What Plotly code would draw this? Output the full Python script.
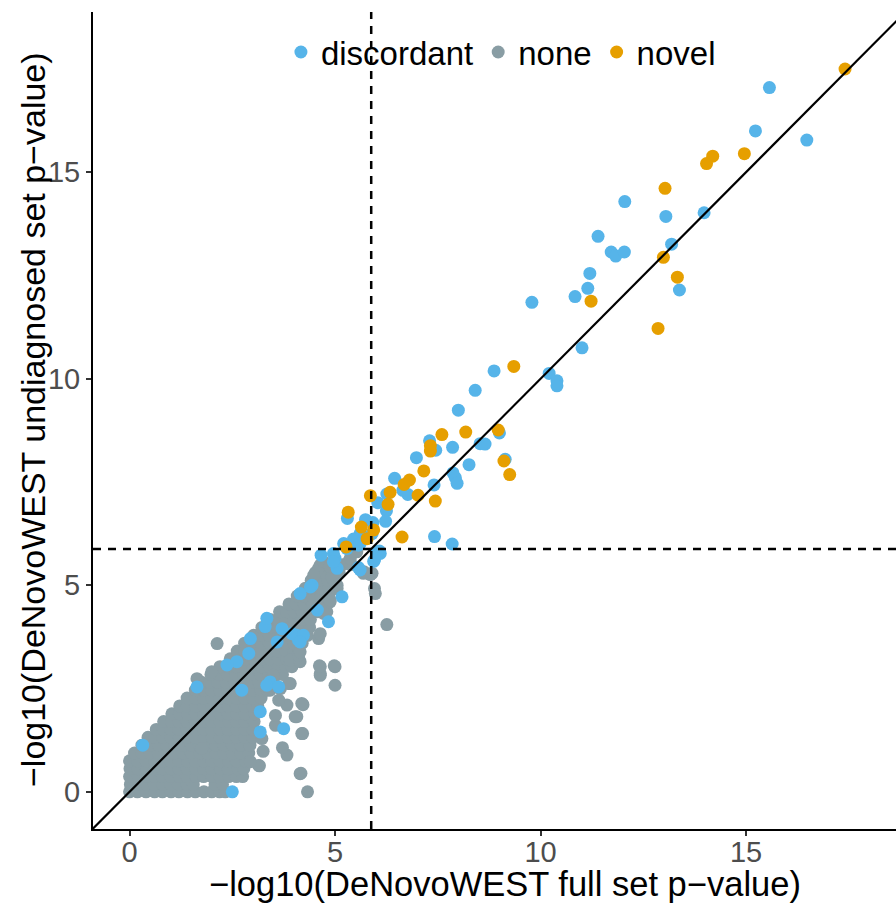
import plotly.graph_objects as go

# ---------------- data ----------------
threshold = 5.88  # significance threshold on both axes

discordant_x = [15.57, 15.23, 16.48, 12.05, 13.05, 13.98, 11.40, 11.72, 11.83, 12.04, 13.19, 13.38,
                11.20, 11.15, 10.84, 9.79, 11.01, 8.87, 10.21, 10.40, 10.40, 8.41, 8.00, 9.00,
                7.30, 7.45, 7.86, 8.53, 8.65, 6.98, 8.26, 9.14, 7.87, 7.93, 7.97, 6.45, 7.41,
                6.65, 6.77, 6.26, 6.04, 6.25, 7.42, 7.85, 5.30, 5.74, 5.92, 6.23, 5.61, 5.45,
                5.21, 5.57, 6.08, 5.96, 4.66, 5.00, 5.05, 5.57, 4.44, 4.96, 5.29, 5.61, 5.90,
                6.02, 5.61, 5.94, 6.10, 4.96, 4.40, 5.17, 4.57, 4.84, 4.07, 4.11, 3.30, 2.90,
                3.71, 3.95, 3.59, 2.61, 3.42, 4.15, 4.23, 2.94, 2.37, 3.34, 0.32, 1.64, 2.73,
                3.34, 3.63, 3.18, 3.75, 3.18, 2.50, 4.15]
discordant_y = [17.05, 16.00, 15.78, 14.29, 13.93, 14.02, 13.45, 13.07, 12.97, 13.07, 13.26, 12.15,
                12.55, 12.19, 11.99, 11.85, 10.75, 10.19, 10.13, 9.95, 9.83, 9.72, 9.24, 8.69,
                8.50, 8.27, 8.34, 8.43, 8.42, 8.09, 7.92, 8.05, 7.72, 7.60, 7.47, 7.59, 7.43,
                7.30, 7.20, 7.21, 7.00, 6.80, 6.18, 6.00, 6.62, 6.59, 6.52, 6.55, 6.25, 6.12,
                6.01, 5.97, 5.83, 5.61, 5.73, 5.65, 5.41, 5.43, 5.00, 5.77, 5.89, 6.01, 6.25,
                5.81, 5.37, 5.58, 5.77, 5.57, 4.96, 4.72, 4.40, 4.12, 3.79, 3.67, 4.00, 3.35,
                3.95, 3.83, 3.63, 3.15, 2.66, 4.80, 3.79, 3.71, 3.07, 4.20, 1.13, 2.54, 2.46,
                2.58, 2.54, 1.94, 1.53, 1.45, 0.00, 3.63]

novel_x = [17.41, 14.19, 14.04, 14.96, 13.03, 12.99, 13.33, 11.23, 12.86, 9.35, 8.97, 8.18,
           7.60, 7.32, 7.32, 9.11, 9.25, 7.16, 6.81, 6.68, 7.02, 6.34, 5.86, 6.29, 7.44,
           6.63, 5.32, 5.64, 5.94, 5.78, 5.27]
novel_y = [17.50, 15.39, 15.21, 15.45, 14.61, 12.94, 12.46, 11.88, 11.22, 10.30, 8.76, 8.71,
           8.65, 8.38, 8.25, 8.01, 7.68, 7.77, 7.55, 7.44, 7.18, 7.25, 7.17, 6.96, 7.04,
           6.17, 6.77, 6.41, 6.34, 6.13, 5.93]

# dense "none" cloud, read row by row: y value -> x values
none_rows = {
    0.00: [0.00, 0.19, 0.40, 0.61, 0.80, 1.01, 1.20, 1.41, 1.60, 1.81, 2.00, 2.19, 2.33],
    0.18: [0.02, 0.22, 0.41, 0.60, 0.81, 1.00, 1.19, 1.40, 1.55, 2.08, 2.26],
    0.37: [0.00, 0.21, 0.40, 0.61, 0.80, 1.00, 1.21, 1.40, 1.62, 1.80, 2.01, 2.20, 2.41, 2.60, 2.75],
    0.56: [0.01, 0.20, 0.41, 0.60, 0.79, 1.01, 1.20, 1.40, 1.61, 1.80, 2.00, 2.21, 2.40, 2.63, 2.78],
    0.75: [0.00, 0.20, 0.40, 0.61, 0.80, 1.00, 1.20, 1.41, 1.60, 1.80, 2.01, 2.20, 2.41, 2.60, 2.82],
    0.94: [0.12, 0.30, 0.50, 0.70, 0.91, 1.10, 1.30, 1.50, 1.71, 1.90, 2.10, 2.30, 2.50, 2.70, 2.90],
    1.13: [0.30, 0.50, 0.70, 0.90, 1.10, 1.31, 1.50, 1.70, 1.91, 2.10, 2.30, 2.50, 2.70, 2.93],
    1.32: [0.45, 0.62, 0.81, 1.00, 1.21, 1.40, 1.60, 1.80, 2.01, 2.20, 2.40, 2.60, 2.80, 3.00],
    1.51: [0.65, 0.82, 1.00, 1.20, 1.40, 1.61, 1.80, 2.00, 2.20, 2.40, 2.60, 2.81, 3.00],
    1.70: [0.83, 1.02, 1.20, 1.40, 1.60, 1.80, 2.00, 2.20, 2.41, 2.60, 2.80, 3.03],
    1.89: [1.03, 1.21, 1.41, 1.60, 1.80, 2.00, 2.20, 2.40, 2.61, 2.81, 3.05],
    2.08: [1.22, 1.40, 1.60, 1.80, 2.00, 2.21, 2.40, 2.60, 2.80, 3.00, 3.12],
    2.27: [1.40, 1.60, 1.80, 2.00, 2.20, 2.40, 2.61, 2.80, 3.00, 3.20],
    2.46: [1.60, 1.80, 2.00, 2.20, 2.40, 2.60, 2.80, 3.00, 3.20, 3.35],
    2.65: [1.75, 1.95, 2.15, 2.35, 2.55, 2.75, 2.95, 3.15, 3.35, 3.50],
    2.84: [1.98, 2.18, 2.38, 2.58, 2.78, 2.98, 3.18, 3.38, 3.58, 3.72],
    3.03: [2.20, 2.40, 2.60, 2.80, 3.00, 3.20, 3.40, 3.60, 3.80, 3.95],
    3.22: [2.45, 2.62, 2.82, 3.02, 3.22, 3.42, 3.62, 3.82, 3.95, 4.12],
    3.41: [2.62, 2.80, 3.00, 3.20, 3.40, 3.60, 3.80, 4.00, 4.12],
    3.60: [2.80, 3.00, 3.20, 3.40, 3.60, 3.80, 4.00, 4.20],
    3.79: [3.02, 3.20, 3.40, 3.60, 3.80, 4.00, 4.20, 4.33],
    3.98: [3.22, 3.40, 3.60, 3.80, 4.00, 4.20, 4.38],
    4.17: [3.42, 3.60, 3.80, 4.00, 4.20, 4.40],
    4.36: [3.65, 3.82, 4.00, 4.20, 4.40, 4.58],
    4.55: [3.88, 4.05, 4.25, 4.45, 4.65],
    4.74: [4.08, 4.25, 4.45, 4.65, 4.85],
    4.93: [4.28, 4.45, 4.65, 4.85, 5.02],
    5.12: [4.42, 4.62, 4.82, 5.00],
    5.31: [4.52, 4.72, 4.92, 5.10],
    5.50: [4.78, 4.98, 5.18, 5.38],
}
# scattered "none" points outside the dense cloud
none_extra_x = [4.33, 4.15, 4.17, 3.14, 3.16, 2.94, 3.25, 3.83, 3.72, 3.22, 4.21, 4.19, 3.55,
                3.55, 4.07, 4.03, 3.83, 4.22, 4.19, 3.63, 3.42, 3.67, 3.91, 3.87, 5.00, 1.64,
                2.00, 4.64, 4.64, 3.50, 4.64, 5.00, 4.98, 4.62, 3.91, 4.15, 4.11, 4.15, 2.13,
                4.60, 4.64, 4.72, 4.80, 4.88, 4.88, 5.05, 4.96, 4.92, 5.05, 5.69, 5.90, 5.86,
                5.70, 5.37, 5.33, 5.53, 5.37, 5.96, 5.98, 6.26, 4.64, 4.60, 4.72, 4.48, 4.88,
                1.76]
none_extra_y = [0.00, 0.44, 0.45, 0.64, 0.63, 0.73, 0.98, 0.89, 1.07, 1.29, 1.41, 1.41, 1.61,
                1.85, 1.82, 1.82, 2.10, 2.11, 2.14, 2.22, 2.46, 2.50, 2.62, 2.62, 2.58, 2.74,
                2.91, 2.82, 2.86, 2.82, 3.03, 3.03, 3.05, 3.05, 3.19, 3.15, 3.31, 3.39, 3.59,
                3.71, 3.83, 4.32, 4.36, 4.60, 4.64, 4.92, 5.12, 5.20, 5.00, 5.29, 5.29, 5.26,
                5.33, 5.57, 5.57, 5.81, 5.65, 4.92, 4.80, 4.05, 5.49, 5.41, 5.57, 5.24, 5.45,
                1.05]

x_range = [-0.89, 18.65]
y_range = [-0.90, 18.88]
tick_vals = [0, 5, 10, 15]

# ---------------- figure ----------------
none_x = [x for yv, xs in none_rows.items() for x in xs] + none_extra_x
none_y = [yv for yv, xs in none_rows.items() for x in xs] + none_extra_y

FONT = "Liberation Sans, Arial, sans-serif"
COL_NONE = "#899DA4"
COL_DISC = "#56B4E9"
COL_NOVEL = "#E69F00"
MS = 13

fig = go.Figure()
fig.add_trace(go.Scatter(x=none_x, y=none_y, mode="markers", name="none", legendrank=2,
                         marker=dict(color=COL_NONE, size=MS, line=dict(width=0))))
fig.add_trace(go.Scatter(x=discordant_x, y=discordant_y, mode="markers", name="discordant",
                         legendrank=1, marker=dict(color=COL_DISC, size=MS, line=dict(width=0))))
fig.add_trace(go.Scatter(x=novel_x, y=novel_y, mode="markers", name="novel", legendrank=3,
                         marker=dict(color=COL_NOVEL, size=MS, line=dict(width=0))))

# reference lines
lo = min(x_range[0], y_range[0])
hi = max(x_range[1], y_range[1])
fig.add_shape(type="line", xref="x", yref="y", x0=lo, y0=lo, x1=hi, y1=hi,
              line=dict(color="black", width=2.2), layer="above")
fig.add_shape(type="line", xref="x", yref="paper", x0=threshold, x1=threshold, y0=0, y1=1,
              line=dict(color="black", width=2.5, dash="8px,7px"), layer="above")
fig.add_shape(type="line", xref="paper", yref="y", x0=0, x1=1, y0=threshold, y1=threshold,
              line=dict(color="black", width=2.5, dash="8px,7px"), layer="above")

axis_common = dict(showgrid=False, zeroline=False, showline=True, linecolor="black",
                   linewidth=2, ticks="outside", ticklen=5, tickwidth=2, tickcolor="#333333",
                   tickvals=tick_vals, tickfont=dict(family=FONT, size=29, color="#4D4D4D"))

fig.update_layout(
    width=896, height=904,
    margin=dict(l=93, r=0, t=12, b=75),
    paper_bgcolor="white", plot_bgcolor="white",
    xaxis=dict(range=x_range, ticklabelstandoff=-9, **axis_common),
    yaxis=dict(range=y_range, **axis_common),
    showlegend=True,
    legend=dict(orientation="h", x=0.508, xanchor="center", y=0.951, yanchor="middle",
                font=dict(family=FONT, size=33, color="black"), bgcolor="rgba(0,0,0,0)",
                itemclick=False),
    font=dict(family=FONT),
    annotations=[
        dict(text="\u2212log10(DeNovoWEST full set p\u2212value)", xref="paper", yref="paper",
             x=0.513, y=-0.0675, xanchor="center", yanchor="middle", showarrow=False,
             font=dict(family=FONT, size=34.5, color="black")),
        dict(text="\u2212log10(DeNovoWEST undiagnosed set p\u2212value)", xref="paper",
             yref="paper", x=-0.0747, y=0.5006, xanchor="center", yanchor="middle",
             textangle=-90, showarrow=False,
             font=dict(family=FONT, size=34, color="black")),
    ],
)

fig.write_html("out.html")
